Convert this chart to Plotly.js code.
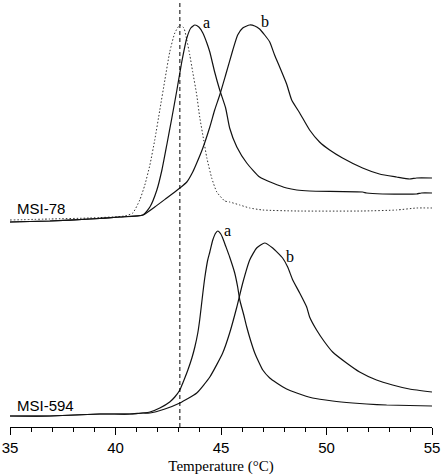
<!DOCTYPE html>
<html>
<head>
<meta charset="utf-8">
<script src="https://cdn.plot.ly/plotly-3.0.1.min.js"></script>
<style>
html,body{margin:0;padding:0;background:#fff;}
#chart{width:442px;height:475px;}
</style>
</head>
<body>
<div id="chart"></div>
<script>
// Temperature (°C) and heat capacity (arbitrary units, curves offset vertically)
// MSI-78 group
const msi78_ctrl_T = [35.00,36.89,38.79,40.44,40.82,41.15,41.39,41.63,41.86,42.10,42.34,42.57,42.81,43.05,43.24,43.38,43.52,43.66,43.85,43.99,44.18,44.33,44.56,44.80,45.18,45.41,45.89,46.36,46.98,48.59,51.71,53.32,54.27,55.00];
const msi78_ctrl_Cp = [20.7,20.8,20.9,21.1,21.4,22.7,24.2,26.2,28.7,31.7,34.7,37.5,39.4,40.2,39.9,38.7,37.2,35.5,33.2,31.0,28.7,26.9,24.9,23.5,22.6,22.5,22.2,21.9,21.7,21.6,21.6,21.7,21.9,21.9];

const msi78_a_T = [35.00,36.89,38.79,40.21,41.30,41.63,41.96,42.20,42.43,42.67,42.91,43.14,43.38,43.57,43.76,43.95,44.14,44.33,44.47,44.70,44.94,45.22,45.41,45.75,46.22,46.83,47.45,48.11,48.59,49.20,51.71,51.90,52.66,54.27,54.50,55.00];
const msi78_a_Cp = [20.5,20.6,20.8,21.0,21.2,22.0,23.7,25.7,28.2,30.9,33.7,36.5,38.9,39.9,40.2,40.0,39.4,38.4,37.5,35.5,33.7,31.9,29.9,28.0,26.4,25.0,24.4,23.9,23.7,23.6,23.5,23.4,23.3,23.3,23.4,23.4];

const msi78_b_T = [35.00,36.89,38.79,40.21,41.30,41.86,42.43,42.81,43.05,43.38,43.66,43.85,44.14,44.47,44.70,44.94,45.22,45.56,45.79,46.03,46.36,46.60,46.83,47.07,47.31,47.54,47.78,48.11,48.35,48.73,49.20,49.67,50.15,50.76,51.71,52.51,53.32,53.93,54.27,55.00];
const msi78_b_Cp = [20.5,20.6,20.8,21.0,21.2,22.0,22.9,23.5,23.9,24.5,25.5,26.4,27.9,30.0,31.7,33.2,35.2,37.7,39.2,39.9,40.2,40.1,39.8,39.2,38.5,37.2,36.0,34.3,32.7,31.4,29.7,28.5,27.7,26.9,25.9,25.3,25.0,24.8,24.9,24.9];

// MSI-594 group
const msi594_a_T = [35.00,36.89,39.26,40.68,41.30,41.63,42.10,42.57,42.81,43.05,43.19,43.43,43.62,43.76,43.90,43.99,44.14,44.23,44.37,44.47,44.61,44.75,44.85,44.99,45.08,45.22,45.41,45.65,45.79,45.89,46.08,46.22,46.41,46.60,46.79,46.98,47.31,47.64,48.11,48.59,49.34,50.29,51.24,51.90,52.85,55.00];
const msi594_a_Cp = [1.1,1.1,1.3,1.3,1.4,1.5,1.9,2.5,3.0,3.7,4.4,5.7,6.9,8.0,9.4,10.7,13.4,14.9,16.7,17.5,18.7,19.4,19.6,19.3,18.9,18.1,17.0,15.4,14.0,12.7,11.2,10.0,8.6,7.4,6.5,5.7,4.9,4.4,3.8,3.4,2.9,2.6,2.4,2.3,2.2,2.1];

const msi594_b_T = [35.00,36.89,39.26,40.68,41.30,41.63,42.34,43.05,43.85,44.47,45.08,45.41,45.75,46.03,46.36,46.69,47.07,47.45,47.92,48.16,48.40,48.73,49.06,49.20,49.53,49.91,50.29,50.95,51.57,52.37,53.13,53.93,55.00];
const msi594_b_Cp = [1.1,1.1,1.3,1.3,1.4,1.4,1.8,2.4,3.4,5.0,7.4,9.4,12.0,14.4,16.7,17.9,18.4,17.9,16.9,16.0,14.7,13.4,12.0,11.0,9.7,8.5,7.5,6.4,5.5,4.7,4.2,3.8,3.5];

const peakLabels = ['a','b','a','b'];
const peakLabelT = [44.33,47.10,45.29,48.25];
const peakLabelCp = [40.5,40.6,19.7,17.1];
const groupNames = ['MSI-78','MSI-594'];
const groupLabelT = [35.24,35.24];
const groupLabelCp = [21.9,2.2];
const refTemp = 43.05;
const xTicks = [35,40,45,50,55];

const solid = {color:'#111', width:1.2, shape:'spline', smoothing:0.5};
const traces = [
  {x:msi78_ctrl_T, y:msi78_ctrl_Cp, mode:'lines', line:{color:'#333', width:1, dash:'1.5px,2px', shape:'spline', smoothing:0.5}},
  {x:msi78_a_T, y:msi78_a_Cp, mode:'lines', line:solid},
  {x:msi78_b_T, y:msi78_b_Cp, mode:'lines', line:solid},
  {x:msi594_a_T, y:msi594_a_Cp, mode:'lines', line:solid},
  {x:msi594_b_T, y:msi594_b_Cp, mode:'lines', line:solid}
];

const annotations = [];
peakLabels.forEach((t,i)=>annotations.push({x:peakLabelT[i], y:peakLabelCp[i], text:t, showarrow:false, xanchor:'center', yanchor:'middle', font:{family:'Liberation Serif', size:16, color:'#000'}}));
groupNames.forEach((t,i)=>annotations.push({x:groupLabelT[i], y:groupLabelCp[i], text:t, showarrow:false, xanchor:'left', yanchor:'middle', font:{family:'Liberation Sans', size:15, color:'#000'}}));

const layout = {
  width:442, height:475,
  margin:{l:10, r:10, t:0, b:48},
  paper_bgcolor:'#fff', plot_bgcolor:'#fff',
  showlegend:false,
  xaxis:{
    range:[35,55], tickvals:xTicks, ticktext:xTicks.map(String),
    showline:true, linecolor:'#000', linewidth:1,
    ticks:'outside', ticklen:7, tickwidth:1, tickcolor:'#000',
    minor:{dtick:1, tick0:35, ticks:'outside', ticklen:4, tickwidth:1, tickcolor:'#000'},
    showgrid:false, zeroline:false,
    tickfont:{family:'Liberation Sans', size:15, color:'#000'},
    title:{text:'Temperature (°C)', font:{family:'Liberation Serif', size:15, color:'#000'}, standoff:6},
    automargin:false, fixedrange:true
  },
  yaxis:{range:[0,42.7], visible:false, showgrid:false, zeroline:false, fixedrange:true},
  shapes:[{type:'line', xref:'x', yref:'paper', x0:refTemp, x1:refTemp, y0:0, y1:1, line:{color:'#000', width:1, dash:'4px,3px'}}],
  annotations:annotations
};

Plotly.newPlot('chart', traces, layout, {staticPlot:true, displayModeBar:false});
</script>
</body>
</html>
